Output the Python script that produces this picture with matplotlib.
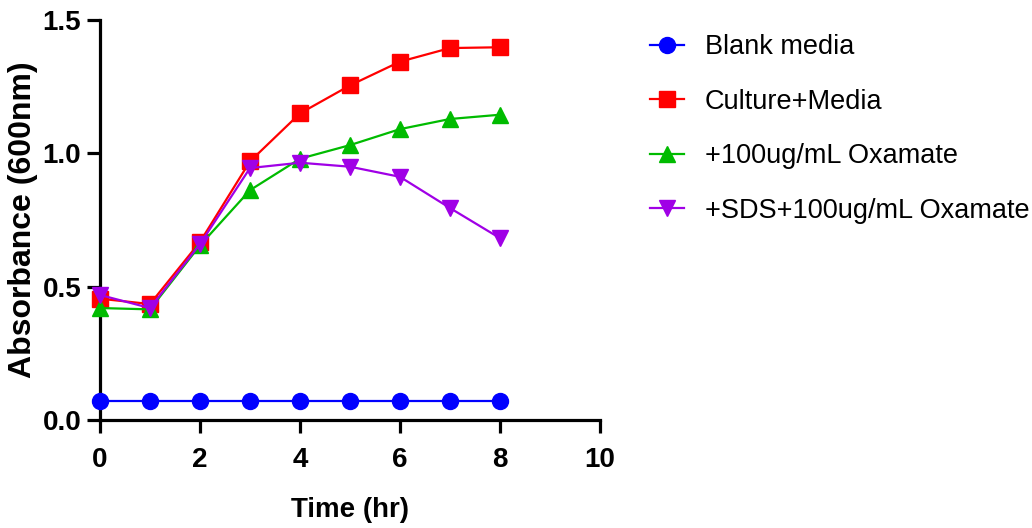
import numpy as np
import matplotlib
matplotlib.use("Agg")
import matplotlib.pyplot as plt

plt.rcParams['font.family'] = ['Liberation Sans', 'DejaVu Sans']

# data
time_hr = [0, 1, 2, 3, 4, 5, 6, 7, 8]
blank = [0.07, 0.07, 0.07, 0.07, 0.07, 0.07, 0.07, 0.07, 0.07]
culture = [0.455, 0.435, 0.668, 0.970, 1.150, 1.255, 1.344, 1.395, 1.398]
oxamate = [0.420, 0.415, 0.655, 0.862, 0.980, 1.031, 1.091, 1.129, 1.145]
sds_oxamate = [0.469, 0.420, 0.660, 0.945, 0.965, 0.950, 0.912, 0.795, 0.682]

labels = ['Blank media', 'Culture+Media', '+100ug/mL Oxamate', '+SDS+100ug/mL Oxamate']
colors = ['#0000FF', '#FF0000', '#00BB00', '#A000E6']
markers = ['o', 's', '^', 'v']
series = [blank, culture, oxamate, sds_oxamate]

fig = plt.figure(figsize=(10.32, 5.28), dpi=100)
ax = fig.add_axes([0.0969, 0.2045, 0.4845, 0.7575])

for vals, lab, c, m in zip(series, labels, colors, markers):
    ax.plot(time_hr, vals, color=c, marker=m, markersize=11.5, lw=1.6,
            label=lab, clip_on=False, zorder=3)

ax.set_xlim(0, 10)
ax.set_ylim(0, 1.5)
ax.set_xticks([0, 2, 4, 6, 8, 10])
ax.set_yticks([0.0, 0.5, 1.0, 1.5])
ax.set_yticklabels(['0.0', '0.5', '1.0', '1.5'])

for s in ['top', 'right']:
    ax.spines[s].set_visible(False)
for s in ['left', 'bottom']:
    ax.spines[s].set_linewidth(2.3)

ax.tick_params(width=2.3, length=9.5, direction='out', labelsize=20)
ax.tick_params(axis='y', pad=4)
ax.tick_params(axis='x', pad=10)
for t in ax.get_xticklabels() + ax.get_yticklabels():
    t.set_fontweight('bold')

ax.set_xlabel('Time (hr)', fontsize=20, fontweight='bold', labelpad=17)
ax.set_ylabel('Absorbance (600nm)', fontsize=23, fontweight='bold')
ax.yaxis.set_label_coords(-0.124, 0.5)

ax.legend(loc='upper left', bbox_to_anchor=(1.052, 1.025), frameon=False,
          fontsize=19.5, handlelength=1.25, labelspacing=1.05, handletextpad=0.75)

fig.savefig('out.png', dpi=100)
